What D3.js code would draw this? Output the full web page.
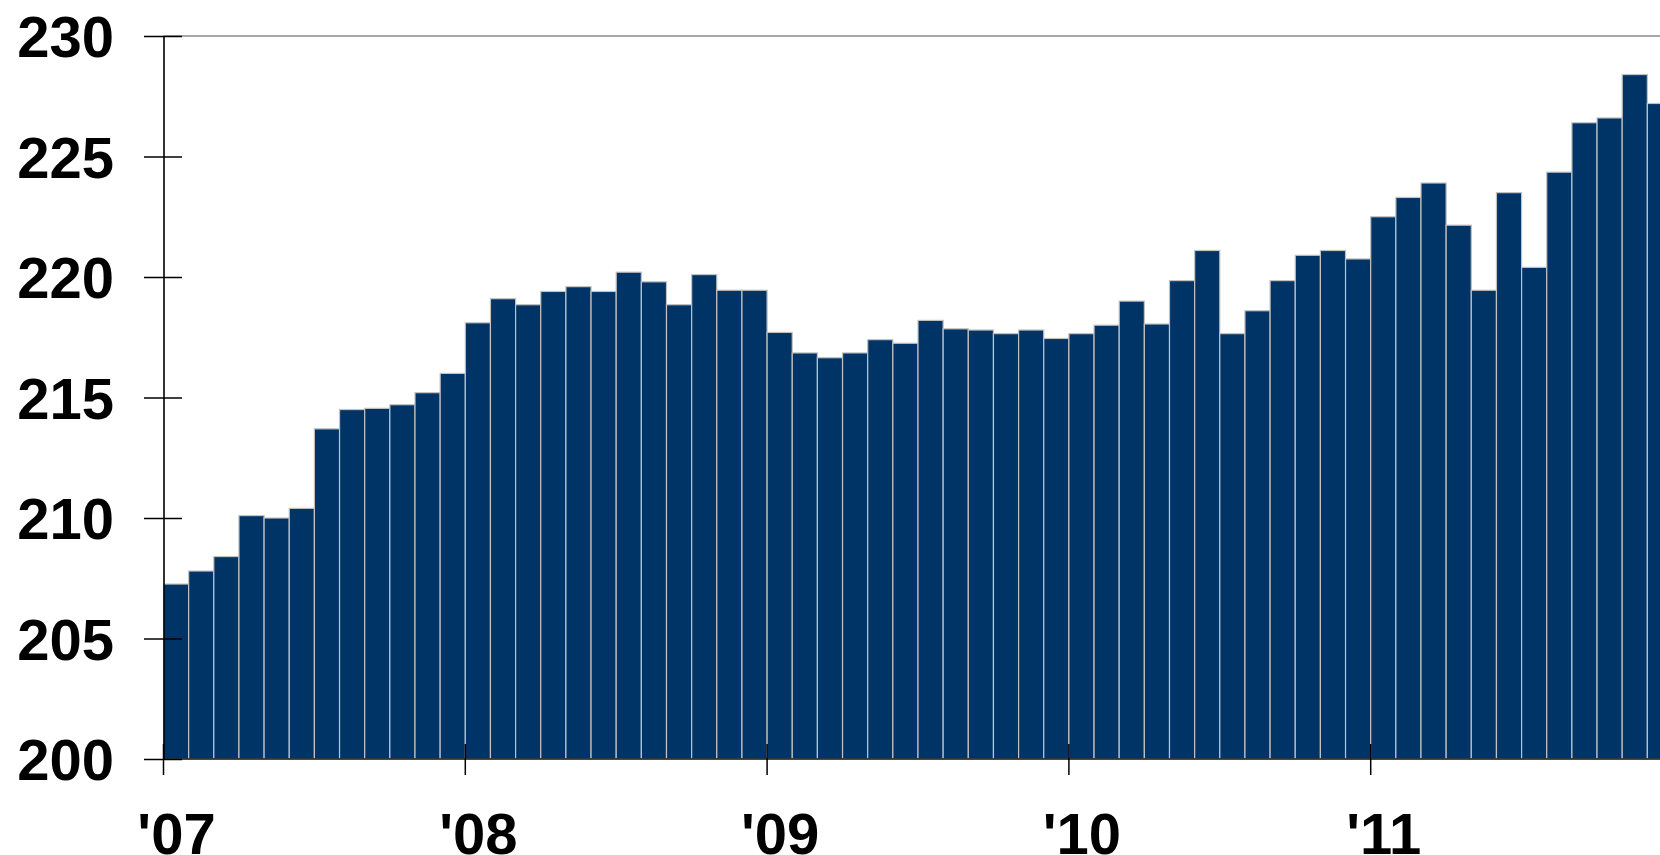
<!DOCTYPE html>
<html>
<head>
<meta charset="utf-8">
<script src="https://cdn.jsdelivr.net/npm/d3@7"></script>
<style>
  html, body { margin: 0; padding: 0; background: #ffffff; overflow: hidden; }
  svg { display: block; }
  text { font-family: "Liberation Sans", Arial, sans-serif; font-weight: bold; fill: #000; }
</style>
</head>
<body>
<svg id="chart" width="1660" height="855"></svg>
<script>
// ---- data ----
const years = ["2007", "2008", "2009", "2010", "2011"];
const months = ["01","02","03","04","05","06","07","08","09","10","11","12"];
const categories = years.flatMap(y => months.map(m => y + "-" + m));
const values = [
  207.26, 207.8, 208.4, 210.1, 210.0, 210.4, 213.7, 214.5, 214.55, 214.7, 215.2, 216.0,
  218.1, 219.1, 218.85, 219.4, 219.6, 219.4, 220.2, 219.8, 218.85, 220.1, 219.45, 219.45,
  217.7, 216.85, 216.65, 216.85, 217.4, 217.25, 218.2, 217.85, 217.8, 217.65, 217.8, 217.45,
  217.65, 218.0, 219.0, 218.05, 219.85, 221.1, 217.65, 218.6, 219.85, 220.9, 221.1, 220.75,
  222.5, 223.3, 223.9, 222.15, 219.45, 223.5, 220.4, 224.35, 226.4, 226.6, 228.4, 227.2
];
const yTicks = [200, 205, 210, 215, 220, 225, 230];
const xTickCats = ["2007-01", "2008-01", "2009-01", "2010-01", "2011-01"];
const xTickLabels = ["'07", "'08", "'09", "'10", "'11"];

// ---- layout ----
const W = 1660, H = 855;
const x0 = 163.5, monthW = 25.15;
const yTop = 36, yBot = 759;

const svg = d3.select("#chart");

const x = d3.scaleBand()
  .domain(categories)
  .range([x0, x0 + categories.length * monthW])
  .paddingInner(0).paddingOuter(0);

const y = d3.scaleLinear().domain([200, 230]).range([yBot, yTop]);

const data = categories.map((c, i) => ({ c, v: values[i] }));

// bars
svg.append("g")
  .selectAll("rect")
  .data(data)
  .join("rect")
  .attr("x", d => x(d.c))
  .attr("y", d => y(d.v))
  .attr("width", x.bandwidth())
  .attr("height", d => y(200) - y(d.v))
  .attr("fill", "#003466")
  .attr("stroke", "#c2c2c2")
  .attr("stroke-width", 1.2);

// top reference line at 230
svg.append("line")
  .attr("x1", x0).attr("x2", W)
  .attr("y1", y(230)).attr("y2", y(230))
  .attr("stroke", "#8a8a8a").attr("stroke-width", 1.5);

// baseline
svg.append("line")
  .attr("x1", x0).attr("x2", W)
  .attr("y1", y(200)).attr("y2", y(200))
  .attr("stroke", "#1a1a1a").attr("stroke-width", 1.6);

// y axis
const yAxis = d3.axisLeft(y)
  .tickValues(yTicks)
  .tickSize(0)
  .tickFormat(d3.format("d"));
const gy = svg.append("g").attr("transform", `translate(${x0},0)`).call(yAxis);
gy.select(".domain").attr("stroke", "#000").attr("stroke-width", 1.6);
gy.selectAll(".tick line")
  .attr("x1", -19.5).attr("x2", 18.5)
  .attr("stroke", "#000").attr("stroke-width", 1.5);
gy.selectAll(".tick text")
  .attr("x", -49.5)
  .attr("dy", "0.36em")
  .attr("text-anchor", "end")
  .style("font-size", "58px")
  .style("font-family", "'Liberation Sans', Arial, sans-serif")
  .style("font-weight", "bold")
  .attr("fill", "#000");

// x axis
const xAxis = d3.axisBottom(x)
  .tickValues(xTickCats)
  .tickSize(0)
  .tickFormat((d, i) => xTickLabels[i]);
const gx = svg.append("g").attr("transform", `translate(${-x.bandwidth() / 2},${yBot})`).call(xAxis);
gx.select(".domain").remove();
gx.selectAll(".tick line")
  .attr("y1", -15).attr("y2", 16)
  .attr("stroke", "#000").attr("stroke-width", 1.5);
gx.selectAll(".tick text")
  .attr("x", 13)
  .attr("y", 95)
  .attr("dy", 0)
  .attr("text-anchor", "middle")
  .style("font-size", "58px")
  .style("font-family", "'Liberation Sans', Arial, sans-serif")
  .style("font-weight", "bold")
  .attr("fill", "#000");
</script>
</body>
</html>
